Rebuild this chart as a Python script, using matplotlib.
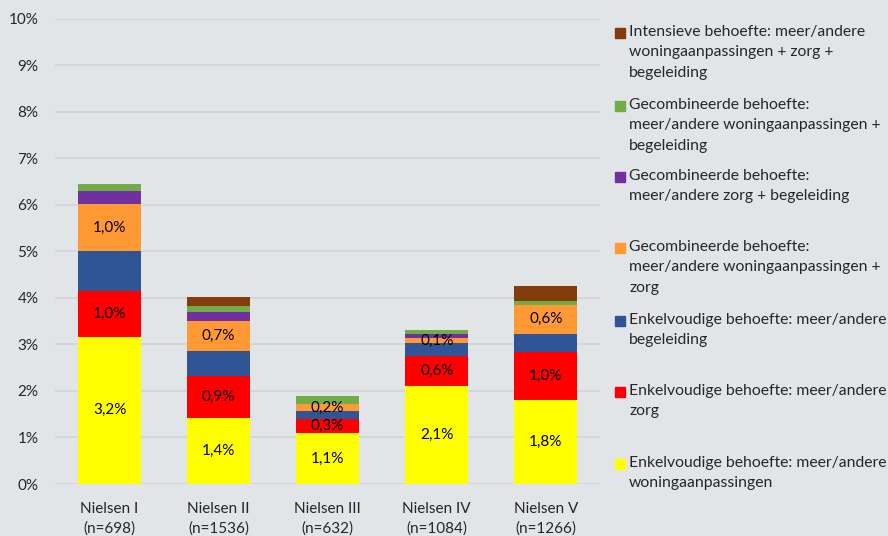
import matplotlib.pyplot as plt
import numpy as np

plt.rcParams['font.family'] = ['Lato', 'DejaVu Sans']

# categorieën
categories = ["Nielsen I\n(n=698)", "Nielsen II\n(n=1536)", "Nielsen III\n(n=632)",
              "Nielsen IV\n(n=1084)", "Nielsen V\n(n=1266)"]

# waarden in %, van onder naar boven gestapeld
woning = [3.17, 1.42, 1.09, 2.11, 1.80]
zorg = [0.97, 0.91, 0.31, 0.64, 1.03]
begeleiding = [0.86, 0.52, 0.16, 0.28, 0.40]
woning_zorg = [1.01, 0.66, 0.17, 0.10, 0.62]
zorg_begel = [0.28, 0.19, 0.00, 0.09, 0.00]
woning_begel = [0.16, 0.13, 0.16, 0.09, 0.09]
intensief = [0.00, 0.20, 0.00, 0.00, 0.32]

series = [woning, zorg, begeleiding, woning_zorg, zorg_begel, woning_begel, intensief]
labels = [
    "Enkelvoudige behoefte: meer/andere\nwoningaanpassingen",
    "Enkelvoudige behoefte: meer/andere\nzorg",
    "Enkelvoudige behoefte: meer/andere\nbegeleiding",
    "Gecombineerde behoefte:\nmeer/andere woningaanpassingen +\nzorg",
    "Gecombineerde behoefte:\nmeer/andere zorg + begeleiding",
    "Gecombineerde behoefte:\nmeer/andere woningaanpassingen +\nbegeleiding",
    "Intensieve behoefte: meer/andere\nwoningaanpassingen + zorg +\nbegeleiding",
]
colors = ["#FFFF00", "#FF0000", "#2F5597", "#FF9933", "#7030A0", "#70AD47", "#843C0C"]
show_label = [True, True, False, True, False, False, False]

bg = "#E2E5E8"
txt = "#262626"

fig = plt.figure(figsize=(8.88, 5.36), dpi=100, facecolor=bg)
ax = fig.add_axes([0.062, 0.097, 0.614, 0.868], facecolor=bg)

x = np.arange(len(categories))
bottom = np.zeros(len(categories))
for vals, col, lab in zip(series, colors, show_label):
    vals = np.array(vals)
    ax.bar(x, vals, 0.58, bottom=bottom, color=col, zorder=3)
    if lab:
        for xi, b, v in zip(x, bottom, vals):
            ax.text(xi, b + v / 2, f"{v:.1f}%".replace(".", ","), ha="center", va="center",
                    fontsize=11, color="black", zorder=4)
    bottom += vals

ax.set_xlim(-0.5, len(categories) - 0.5)
ax.set_ylim(0, 10)
ax.set_yticks(np.arange(0, 11, 1))
ax.set_yticklabels([f"{i}%" for i in range(11)])
ax.set_xticks(x)
ax.set_xticklabels(categories, linespacing=1.45)
ax.grid(axis="y", color="#D2D4D7", linewidth=1.2, zorder=0)
ax.tick_params(axis="both", length=0, labelsize=11, colors=txt)
ax.tick_params(axis="y", pad=12)
ax.tick_params(axis="x", pad=13)
for s in ax.spines.values():
    s.set_visible(False)

# legenda rechts (omgekeerde volgorde)
W, H = 888, 536
ys = [33, 106, 177, 248, 321, 392, 464]
for y, col, lab in zip(ys, colors[::-1], labels[::-1]):
    fig.patches.append(plt.Rectangle((615 / W, 1 - (y + 5) / H), 10 / W, 10 / H,
                                     transform=fig.transFigure, color=col))
    fig.text(629 / W, 1 - (y - 8) / H, lab, ha="left", va="top", fontsize=11.3,
             color=txt, linespacing=1.58)

fig.savefig("out.png", dpi=100, facecolor=bg)
